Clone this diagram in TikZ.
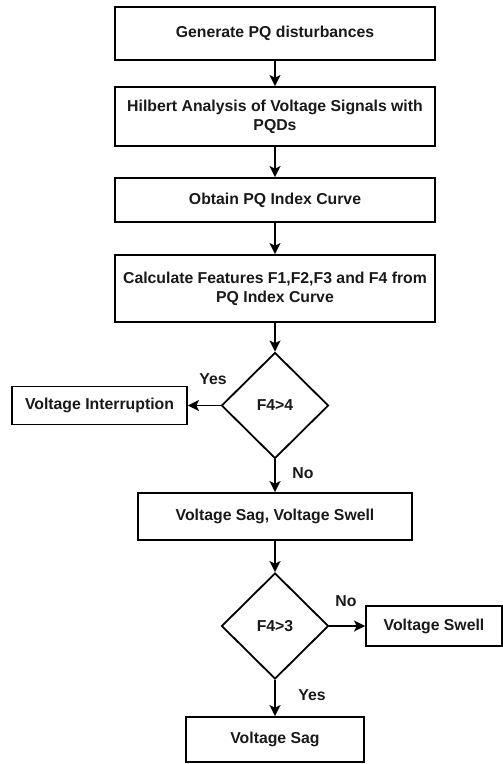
\documentclass[tikz,border=0pt]{standalone}
\usepackage{fontspec}
\setmainfont{Liberation Sans}
\usetikzlibrary{shapes.geometric,arrows.meta}
\begin{document}
\begin{tikzpicture}[x=1pt,y=-1pt,
  font=\fontsize{15.8}{19}\selectfont\bfseries,
  box/.style={draw=black,line width=1.8pt,rectangle,align=center,inner sep=0pt,text=black!90},
  dec/.style={draw=black,line width=1.8pt,diamond,inner sep=0pt,minimum width=107pt,minimum height=106pt,text=black!90},
  lbl/.style={inner sep=0pt,text=black!90},
  arr/.style={line width=1.8pt,-{Stealth[length=11pt,width=11pt,inset=2.5pt]}}]
\useasboundingbox (0,0) rectangle (503,764);
\node[box,minimum width=320pt,minimum height=53pt] (b1) at (275,33.5) {Generate PQ disturbances};
\node[box,minimum width=320pt,minimum height=59pt] (b2) at (275,116.5) {Hilbert Analysis of Voltage Signals with\\PQDs};
\node[box,minimum width=320pt,minimum height=44pt] (b3) at (275,200) {Obtain PQ Index Curve};
\node[box,minimum width=320pt,minimum height=67pt] (b4) at (275,288.5) {Calculate Features F1,F2,F3 and F4 from\\PQ Index Curve};
\node[dec] (d1) at (275,405.5) {F4>4};
\node[box,minimum width=175pt,minimum height=38pt] (vi) at (99.5,405.5) {Voltage Interruption};
\node[box,minimum width=274pt,minimum height=47pt] (b5) at (275,516.5) {Voltage Sag, Voltage Swell};
\node[dec] (d2) at (275,626) {F4>3};
\node[box,minimum width=136pt,minimum height=40pt] (vw) at (434,626) {Voltage Swell};
\node[box,minimum width=178pt,minimum height=45pt] (vs) at (275,739.5) {Voltage Sag};
\node[lbl] (l1) at (213,379) {Yes};
\node[lbl] (l2) at (303,473) {No};
\node[lbl] (l3) at (346,601) {No};
\node[lbl] (l4) at (312,695) {Yes};
\draw[arr] (b1) -- (b2);
\draw[arr] (b2) -- (b3);
\draw[arr] (b3) -- (b4);
\draw[arr] (b4) -- (d1.north);
\draw[arr] (d1.west) -- (vi.east);
\draw[arr] (d1.south) -- (b5.north);
\draw[arr] (b5) -- (d2.north);
\draw[arr] (d2.east) -- (vw.west);
\draw[arr] (d2.south) -- (vs.north);
\end{tikzpicture}
\end{document}
